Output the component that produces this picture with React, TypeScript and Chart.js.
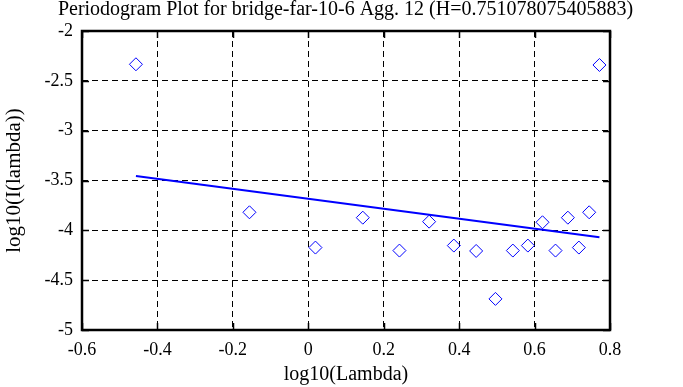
import React, { useEffect, useRef } from "react";
import { Chart, registerables } from "chart.js";

Chart.register(...registerables);

const TITLE = "Periodogram Plot for bridge-far-10-6 Agg. 12 (H=0.751078075405883)";
const X_LABEL = "log10(Lambda)";
const Y_LABEL = "log10(I(lambda))";

const pointX = [-0.457, -0.156, 0.019, 0.1445, 0.2417, 0.3204, 0.3859, 0.4451, 0.4963, 0.5424, 0.5822, 0.621, 0.6555, 0.6883, 0.7175, 0.7448, 0.772];
const pointY = [-2.334, -3.819, -4.173, -3.873, -4.203, -3.913, -4.153, -4.207, -4.688, -4.203, -4.153, -3.919, -4.203, -3.873, -4.173, -3.819, -2.341];

const fitX = [-0.457, 0.772];
const fitY = [-3.454, -4.07];

const X_MIN = -0.6, X_MAX = 0.8, X_STEP = 0.2;
const Y_MIN = -5, Y_MAX = -2, Y_STEP = 0.5;

const FONT = "'Liberation Serif', 'Times New Roman', serif";

const frame = {
  id: "frame",
  afterDraw(chart: any) {
    const { ctx, chartArea: a, scales } = chart;
    ctx.save();
    ctx.strokeStyle = "#000";
    ctx.setLineDash([]);
    ctx.lineWidth = 1.5;
    const tl = 7;
    scales.x.ticks.forEach((t: any) => {
      const px = Math.round(scales.x.getPixelForValue(t.value)) + 0.5;
      ctx.beginPath();
      ctx.moveTo(px, a.top); ctx.lineTo(px, a.top + tl);
      ctx.moveTo(px, a.bottom); ctx.lineTo(px, a.bottom - tl);
      ctx.stroke();
    });
    scales.y.ticks.forEach((t: any) => {
      const py = Math.round(scales.y.getPixelForValue(t.value)) + 0.5;
      ctx.beginPath();
      ctx.moveTo(a.left, py); ctx.lineTo(a.left + tl, py);
      ctx.moveTo(a.right, py); ctx.lineTo(a.right - tl, py);
      ctx.stroke();
    });
    ctx.lineWidth = 2.5;
    ctx.strokeRect(a.left, a.top, a.right - a.left, a.bottom - a.top);
    ctx.restore();
  },
};

const fmt = (v: number) => String(Number(v.toFixed(1)));

export default function App() {
  const ref = useRef<HTMLCanvasElement>(null);
  useEffect(() => {
    const canvas = ref.current!;
    const chart = new Chart(canvas, {
      type: "scatter",
      data: {
        datasets: [
          {
            type: "line",
            data: fitX.map((x, i) => ({ x, y: fitY[i] })),
            borderColor: "#0000ff",
            borderWidth: 2,
            pointRadius: 0,
            fill: false,
          } as any,
          {
            data: pointX.map((x, i) => ({ x, y: pointY[i] })),
            pointStyle: "rectRot",
            pointRadius: 6.5,
            pointBorderColor: "#0000ff",
            pointBackgroundColor: "rgba(0,0,0,0)",
            pointBorderWidth: 1,
          },
        ],
      },
      options: {
        animation: false,
        responsive: false,
        devicePixelRatio: 1,
        layout: { padding: { top: 0, right: 0, left: 8, bottom: 0 } },
        plugins: {
          legend: { display: false },
          tooltip: { enabled: false },
          title: {
            display: true,
            text: TITLE,
            color: "#000",
            font: { family: FONT, size: 20, weight: "normal", lineHeight: 1.0 },
            padding: { top: 0, bottom: 11 },
          },
        },
        scales: {
          x: {
            type: "linear",
            min: X_MIN,
            max: X_MAX,
            afterFit: (s: any) => { s.height = 57; },
            afterBuildTicks: (s: any) => {
              const t = [];
              for (let v = X_MIN; v <= X_MAX + 1e-9; v += X_STEP) t.push({ value: Number(v.toFixed(2)) });
              s.ticks = t;
            },
            ticks: { color: "#000", font: { family: FONT, size: 18 }, padding: 9, callback: (v: any) => fmt(Number(v)), maxRotation: 0 },
            grid: { color: "#000", lineWidth: 1, drawTicks: false },
            border: { display: false, dash: [6, 4] },
            title: { display: true, text: X_LABEL, color: "#000", font: { family: FONT, size: 20 }, padding: { top: 0, bottom: 0 } },
          },
          y: {
            type: "linear",
            min: Y_MIN,
            max: Y_MAX,
            afterFit: (s: any) => { s.width = 74; },
            afterBuildTicks: (s: any) => {
              const t = [];
              for (let v = Y_MIN; v <= Y_MAX + 1e-9; v += Y_STEP) t.push({ value: Number(v.toFixed(2)) });
              s.ticks = t;
            },
            ticks: { color: "#000", font: { family: FONT, size: 18 }, padding: 9, callback: (v: any) => fmt(Number(v)) },
            grid: { color: "#000", lineWidth: 1, drawTicks: false },
            border: { display: false, dash: [6, 4] },
            title: { display: true, text: Y_LABEL, color: "#000", font: { family: FONT, size: 21 }, padding: { top: -6, bottom: 0 } },
          },
          yRight: {
            type: "linear",
            position: "right",
            min: Y_MIN,
            max: Y_MAX,
            afterFit: (s: any) => { s.width = 73; },
            ticks: { display: false },
            grid: { display: false, drawOnChartArea: false },
            border: { display: false },
          },
        },
      },
      plugins: [frame],
    } as any);
    return () => chart.destroy();
  }, []);
  return (
    <div style={{ position: "absolute", left: 0, top: 0, width: 683, height: 387, background: "#fff" }}>
      <canvas ref={ref} width={683} height={387} style={{ width: 683, height: 387 }} />
    </div>
  );
}
